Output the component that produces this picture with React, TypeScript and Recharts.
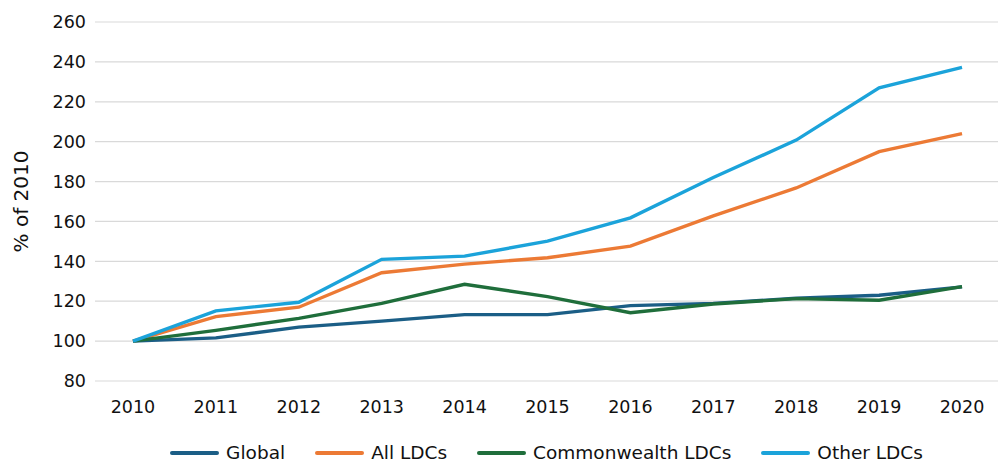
import React from "react";
import {
  LineChart,
  Line,
  XAxis,
  YAxis,
  CartesianGrid,
  Legend,
} from "recharts";

const YEARS = [2010, 2011, 2012, 2013, 2014, 2015, 2016, 2017, 2018, 2019, 2020];
const GLOBAL = [100, 101.6, 107, 110, 113.3, 113.3, 117.8, 118.9, 121.5, 123, 127.2];
const ALL_LDCS = [100, 112.3, 117, 134.3, 138.6, 141.8, 147.6, 162.8, 176.8, 195, 204];
const COMMONWEALTH_LDCS = [100, 105.4, 111.4, 118.9, 128.5, 122.3, 114.2, 118.6, 121.3, 120.5, 127.3];
const OTHER_LDCS = [100, 115.2, 119.5, 141, 142.6, 150.1, 161.8, 182, 200.8, 227, 237.2];
const Y_TICKS = [80, 100, 120, 140, 160, 180, 200, 220, 240, 260];

const SERIES = [
  { key: "global", name: "Global", color: "#1b5e86" },
  { key: "all", name: "All LDCs", color: "#ec7a35" },
  { key: "commonwealth", name: "Commonwealth LDCs", color: "#1f6e3b" },
  { key: "other", name: "Other LDCs", color: "#1ba3da" },
];

const data = YEARS.map((year, i) => ({
  year,
  global: GLOBAL[i],
  all: ALL_LDCS[i],
  commonwealth: COMMONWEALTH_LDCS[i],
  other: OTHER_LDCS[i],
}));

const FONT = "'DejaVu Sans', sans-serif";

function renderLegend() {
  return (
    <div
      style={{
        height: 41,
        paddingTop: 22,
        boxSizing: "border-box",
        display: "flex",
        justifyContent: "center",
        alignItems: "center",
        fontFamily: FONT,
        fontSize: 18.5,
        color: "#111",
      }}
    >
      {SERIES.map((s, i) => (
        <div
          key={s.key}
          style={{
            display: "flex",
            alignItems: "center",
            marginRight: i < SERIES.length - 1 ? 30 : 0,
          }}
        >
          <span
            style={{
              display: "inline-block",
              width: 49,
              height: 4,
              borderRadius: 2,
              background: s.color,
              marginRight: 7,
            }}
          />
          <span>{s.name}</span>
        </div>
      ))}
    </div>
  );
}

export default function App() {
  return (
    <div style={{ position: "absolute", left: 0, top: 0, background: "#fff" }}>
      <LineChart
        width={998}
        height={462}
        data={data}
        margin={{ top: 22, right: 0, bottom: 0, left: 0 }}
      >
        <CartesianGrid vertical={false} stroke="#d9d9d9" strokeWidth={1.2} />
        <XAxis
          dataKey="year"
          type="number"
          domain={[2009.542, 2020.434]}
          ticks={YEARS}
          allowDataOverflow
          axisLine={false}
          tickLine={false}
          tickSize={0}
          tickMargin={20}
          height={40}
          interval={0}
          tick={{ fill: "#111", fontSize: 17.5, fontFamily: FONT }}
        />
        <YAxis
          domain={[80, 260]}
          ticks={Y_TICKS}
          axisLine={false}
          tickLine={false}
          tickSize={0}
          tickMargin={9}
          width={95}
          interval={0}
          tick={{ fill: "#111", fontSize: 17.5, fontFamily: FONT }}
          label={{
            value: "% of 2010",
            angle: -90,
            position: "center",
            dx: -27,
            style: { fill: "#111", fontSize: 20, fontFamily: FONT },
          }}
        />
        <Legend
          verticalAlign="bottom"
          content={renderLegend}
          wrapperStyle={{ left: 95, width: 903 }}
        />
        {SERIES.map((s) => (
          <Line
            key={s.key}
            type="linear"
            dataKey={s.key}
            name={s.name}
            stroke={s.color}
            strokeWidth={3.4}
            dot={false}
            isAnimationActive={false}
          />
        ))}
      </LineChart>
    </div>
  );
}
